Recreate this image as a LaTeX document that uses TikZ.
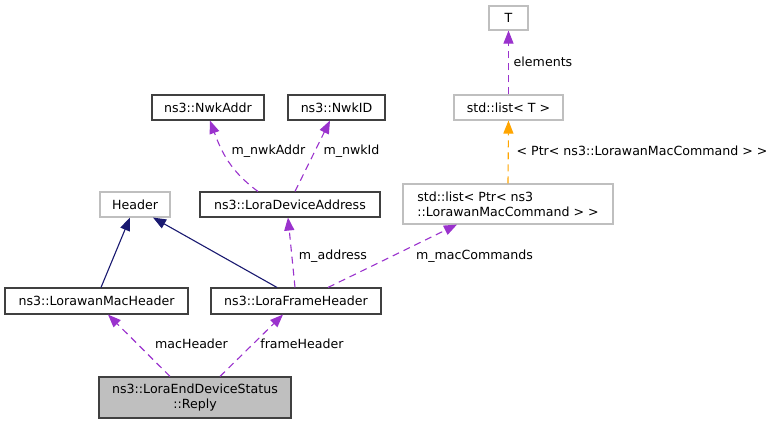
\documentclass[tikz,border=0pt]{standalone}
\usepackage{fontspec}
\setmainfont{DejaVu Sans}
\usetikzlibrary{arrows.meta}
\definecolor{edgepurple}{HTML}{9A32CD}
\definecolor{edgenavy}{HTML}{191970}
\definecolor{edgeorange}{HTML}{FFA500}
\definecolor{boxgray}{HTML}{BFBFBF}
\definecolor{boxdark}{HTML}{404040}
\begin{document}
\begin{tikzpicture}[x=1pt,y=-1pt,
  every node/.style={font=\fontsize{12.6}{15}\selectfont, inner sep=0pt},
  cls/.style={draw=boxdark, line width=1.1pt, rectangle, fill=white},
  ext/.style={draw=boxgray, line width=1.1pt, rectangle, fill=white},
  focus/.style={draw=boxdark, line width=1.1pt, rectangle, fill=boxgray},
  inherit/.style={draw=edgenavy, line width=1.1pt, -{Triangle[length=13pt,width=10pt]}},
  member/.style={draw=edgepurple, line width=1.1pt, dash pattern=on 7pt off 5pt, -{Triangle[length=13pt,width=10pt]}},
  templ/.style={draw=edgeorange, line width=1.1pt, dash pattern=on 7pt off 5pt, -{Triangle[length=13pt,width=10pt]}},
  lbl/.style={text=black, anchor=center}
]
\useasboundingbox (0,0) rectangle (777,424);

% nodes
\node[ext, minimum width=39pt, minimum height=24pt] (T) at (508.5,18) {T};
\node[ext, minimum width=109pt, minimum height=25pt] (listT) at (508.5,107.5) {std::list< T >};
\node[ext, minimum width=210pt, minimum height=40pt, align=left] (listPtr) at (508,204) {std::list< Ptr< ns3\\::LorawanMacCommand > >};
\node[cls, minimum width=112pt, minimum height=25pt] (nwkaddr) at (208,107.5) {ns3::NwkAddr};
\node[cls, minimum width=97pt, minimum height=25pt] (nwkid) at (336.5,107.5) {ns3::NwkID};
\node[cls, minimum width=180pt, minimum height=25pt] (lda) at (290,204.5) {ns3::LoraDeviceAddress};
\node[ext, minimum width=70pt, minimum height=25pt] (header) at (135,204.5) {Header};
\node[cls, minimum width=183pt, minimum height=26pt] (mac) at (96.5,301) {ns3::LorawanMacHeader};
\node[cls, minimum width=170pt, minimum height=26pt] (frame) at (296,301) {ns3::LoraFrameHeader};
\node[focus, minimum width=192pt, minimum height=41pt, align=center] (reply) at (195,397.5) {ns3::LoraEndDeviceStatus\\::Reply};

% edges
\draw[inherit] ([xshift=4.5pt]mac.north) -- ([xshift=-5pt]header.south);
\draw[inherit] ([xshift=-19pt]frame.north) -- ([xshift=18pt]header.south);
\draw[member] ([xshift=-25pt]reply.north) -- ([xshift=11.5pt]mac.south);
\draw[member] ([xshift=25pt]reply.north) -- ([xshift=-13pt]frame.south);
\draw[member] ([xshift=-1pt]frame.north) -- ([xshift=-2pt]lda.south);
\draw[member] ([xshift=32pt]frame.north) -- ([xshift=-51pt]listPtr.south);
\draw[member] ([xshift=-32pt]lda.north) to[out=144,in=-70] ([xshift=2pt]nwkaddr.south);
\draw[member] ([xshift=5pt]lda.north) -- ([xshift=-6.5pt]nwkid.south);
\draw[member] (listT.north) -- (T.south);
\draw[templ] (listPtr.north) -- (listT.south);

% labels
\node[lbl] (lmac) at (191.5,344) {macHeader};
\node[lbl] (lframe) at (302,344) {frameHeader};
\node[lbl] (laddr) at (333,256) {m\_address};
\node[lbl] (lcmds) at (474.5,256) {m\_macCommands};
\node[lbl] (lnwkaddr) at (268.5,151) {m\_nwkAddr};
\node[lbl] (lnwkid) at (351.5,151) {m\_nwkId};
\node[lbl] (lelem) at (543,62) {elements};
\node[lbl] (lptr) at (642,151) {< Ptr< ns3::LorawanMacCommand > >};
\end{tikzpicture}
\end{document}
